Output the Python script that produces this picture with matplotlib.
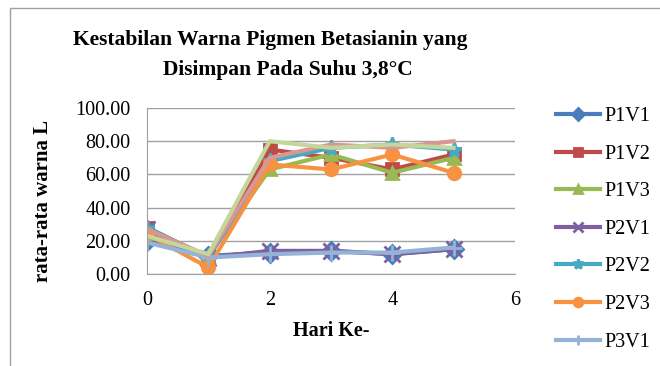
import matplotlib.pyplot as plt
import matplotlib.patches as mpatches

plt.rcParams['font.family'] = ['Liberation Serif', 'DejaVu Serif']

hari = [0, 1, 2, 3, 4, 5]
labels = ['P1V1', 'P1V2', 'P1V3', 'P2V1', 'P2V2', 'P2V3', 'P3V1', 'P3V2', 'P3V3']
p1v1 = [20, 11, 13, 14, 12, 15]
p1v2 = [28, 10, 75, 70, 63, 72]
p1v3 = [25, 11, 63, 72, 61, 70]
p2v1 = [27, 10, 14, 14, 12, 15]
p2v2 = [28, 10, 68, 76, 78, 75]
p2v3 = [24, 4, 66, 63, 72, 61]
p3v1 = [19, 10, 12, 13, 13, 16]
p3v2 = [27, 11, 70, 78, 76, 80]
p3v3 = [23, 12, 80, 76, 78, 76]
series = [p1v1, p1v2, p1v3, p2v1, p2v2, p2v3, p3v1, p3v2, p3v3]

colors = ['#4A7EBB', '#BE4B48', '#98B954', '#7D60A0', '#46AAC5',
          '#F69240', '#95B3D7', '#DA9694', '#C3D69B']
markers = ['D', 's', '^', 'x', '*', 'o', '+', '', '']

fig = plt.figure(figsize=(6.6, 3.66), dpi=100)
ax = fig.add_axes([0.223, 0.251, 0.557, 0.454])

handles = []
for y, lab, c, m in zip(series, labels, colors, markers):
    ms = 11 if m in ('x', '*', '+') else 9
    h, = ax.plot(hari, y, color=c, lw=3, marker=m, ms=ms, mew=2,
                 mfc=c, mec=c, label=lab)
    handles.append(h)

ax.set_xlim(0, 6)
ax.set_ylim(0, 100)
ax.set_xticks([0, 2, 4, 6])
ax.set_yticks([0, 20, 40, 60, 80, 100])
ax.set_yticklabels(['%.2f' % v for v in [0, 20, 40, 60, 80, 100]])
ax.tick_params(labelsize=14.5, length=0, pad=12)
ax.yaxis.grid(True, color='#A0A0A0', lw=1)
ax.set_axisbelow(True)
for s in ['top', 'right']:
    ax.spines[s].set_visible(False)
for s in ['left', 'bottom']:
    ax.spines[s].set_color('#A0A0A0')

ax.set_xlabel('Hari Ke-', fontsize=14.5, fontweight='bold', labelpad=8)
ax.set_ylabel('rata-rata warna L', fontsize=15, fontweight='bold')
ax.yaxis.set_label_coords(-0.255, 0.44)

fig.text(270 / 660, 1 - 40 / 366, 'Kestabilan Warna Pigmen Betasianin yang', ha='center',
         va='center', fontsize=15.5, fontweight='bold')
fig.text(288 / 660, 1 - 70 / 366, 'Disimpan Pada Suhu 3,8°C', ha='center',
         va='center', fontsize=15.5, fontweight='bold')

# only the first seven entries fit in the figure
fig.legend(handles=handles[:7], loc='upper left', bbox_to_anchor=(0.83, 0.73),
           frameon=False, fontsize=14.5, labelspacing=0.92, handlelength=2.2,
           handletextpad=0.2, borderaxespad=0, markerscale=0.7)

fig.add_artist(mpatches.Rectangle((0.015, -0.1), 1.1, 1.078, transform=fig.transFigure,
                                  fill=False, edgecolor='#A0A0A0', lw=1))

fig.savefig('out.png', dpi=100)
